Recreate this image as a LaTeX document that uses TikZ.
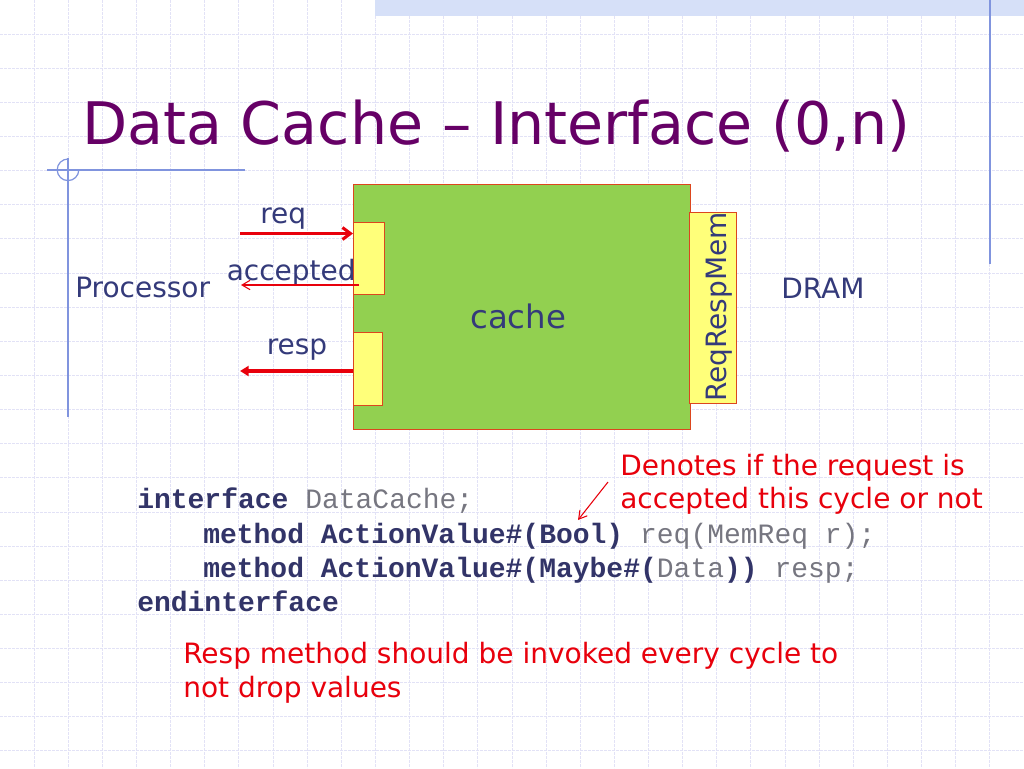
\documentclass[tikz,border=0pt]{standalone}
\usepackage{fontspec}
\setmainfont{DejaVu Sans}
\newfontfamily\codefont{Liberation Mono}
\usetikzlibrary{arrows.meta}
\definecolor{titlec}{RGB}{102,0,102}
\definecolor{labelc}{RGB}{52,58,122}
\definecolor{gridc}{RGB}{226,226,246}
\definecolor{bandc}{RGB}{214,224,248}
\definecolor{decoc}{RGB}{128,148,222}
\definecolor{greenc}{RGB}{146,208,80}
\definecolor{yellowc}{RGB}{255,255,122}
\definecolor{edgec}{RGB}{220,70,30}
\definecolor{redc}{RGB}{232,0,12}
\definecolor{kwc}{RGB}{50,52,104}
\definecolor{codegray}{RGB}{118,118,128}
\tikzset{
  gridline/.style={draw=gridc, line width=0.7pt, dash pattern=on 2pt off 1pt},
  deco/.style={draw=decoc, line width=0.9pt},
  lbl/.style={inner sep=0pt, anchor=base west, text=labelc, font=\fontsize{21}{25}\selectfont},
  note/.style={inner sep=0pt, anchor=base west, text=redc, font=\fontsize{21}{25}\selectfont},
  code/.style={inner sep=0pt, anchor=base west, text=codegray, font=\codefont\fontsize{21}{25}\selectfont},
  cachebox/.style={draw=edgec, line width=0.8pt, fill=greenc},
  portbox/.style={draw=edgec, line width=0.8pt, fill=yellowc},
  thickarrow/.style={draw=redc, line width=2.3pt},
  thinarrow/.style={draw=redc, line width=0.8pt},
}
\newcommand{\kw}[1]{{\bfseries\color{kwc}#1}}
\begin{document}
\begin{tikzpicture}[x=0.75pt,y=-0.75pt]
\useasboundingbox (0,0) rectangle (1024,768);
\fill[white] (0,0) rectangle (1024,768);
% grid
\foreach \i in {1,...,29} \draw[gridline] (\i*34.133,0) -- (\i*34.133,768);
\foreach \j in {1,...,22} \draw[gridline] (0,\j*34.133) -- (1024,\j*34.133);
% top band
\fill[bandc] (375,0) rectangle (1024,16);
% decorations
\draw[deco] (47,170) -- (245,170);
\draw[deco] (68,158) -- (68,417);
\draw[deco] (68,159) arc[start angle=90, end angle=360, radius=10.8*0.75pt];
\draw[deco] (990,0) -- (990,264);
% title
\node[inner sep=0pt, anchor=base west, text=titlec, font=\fontsize{44}{50}\selectfont] (title) at (82,144) {Data Cache – Interface (0,n)};
% boxes
\node[cachebox, minimum width=337*0.75pt, minimum height=245*0.75pt, inner sep=0pt, anchor=north west] (cache) at (353,184) {};
\node[portbox, minimum width=31*0.75pt, minimum height=72*0.75pt, inner sep=0pt, anchor=north west] (reqport) at (353,222) {};
\node[portbox, minimum width=29*0.75pt, minimum height=73*0.75pt, inner sep=0pt, anchor=north west] (respport) at (353,332) {};
\node[portbox, minimum width=47*0.75pt, minimum height=191*0.75pt, inner sep=0pt, anchor=north west] (memport) at (689,211.5) {};
% texts in diagram
\node[lbl, font=\fontsize{24.3}{28}\selectfont] (cachelbl) at (470,328) {cache};
\node[lbl, rotate=90] (memlbl) at (726,402) {ReqRespMem};
\node[lbl] (proc) at (75,297) {Processor};
\node[lbl] (dram) at (781,298) {DRAM};
\node[lbl] (reqlbl) at (260,223) {req};
\node[lbl] (acclbl) at (226.5,280) {accepted};
\node[lbl] (resplbl) at (266.5,354) {resp};
% arrows
\coordinate (reqstart) at (240,233.5);
\coordinate (accend) at (241,285);
\coordinate (respend) at (240,371);
\draw[thickarrow, -{Straight Barb[length=6pt, width=9pt]}] (reqstart) -- (reqport.west |- reqstart);
\draw[thinarrow, -{Straight Barb[length=6pt, width=7pt]}] (359,285) coordinate (accstart) -- (accend);
\draw[thickarrow, -{Triangle[length=6.5pt, width=7.5pt]}] (respport.west |- respend) -- (respend);
% code
\node[code] (c1) at (137,508) {\kw{interface} DataCache;};
\node[code] (c2) at (203,543) {\kw{method ActionValue\#(Bool)} req(MemReq r);};
\node[code] (c3) at (203,577) {\kw{method ActionValue\#(Maybe\#(}Data\kw{))} resp;};
\node[code] (c4) at (137,611) {\kw{endinterface}};
% notes
\node[note] (n1) at (620,475) {Denotes if the request is};
\node[note] (n2) at (620,508) {accepted this cycle or not};
\coordinate (notetail) at (608,482);
\coordinate (notehead) at (578,520);
\draw[thinarrow, -{Straight Barb[length=6pt, width=7pt]}] (notetail) -- (notehead);
\node[note] (n3) at (183,663) {Resp method should be invoked every cycle to};
\node[note] (n4) at (183,697) {not drop values};
\end{tikzpicture}
\end{document}
